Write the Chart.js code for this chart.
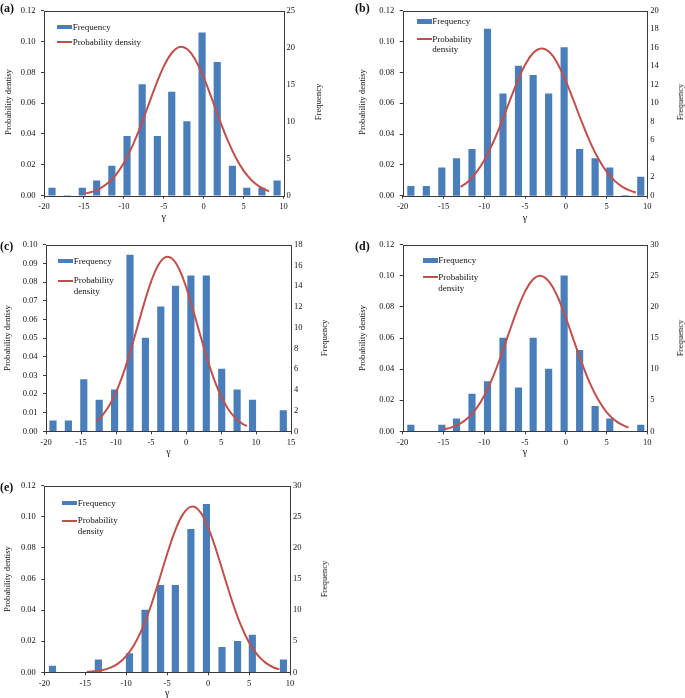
<!DOCTYPE html>
<html><head><meta charset="utf-8">
<script src="https://cdn.jsdelivr.net/npm/chart.js@4.4.1/dist/chart.umd.min.js"></script>
<style>
body{margin:0;background:#fff;}
#page{position:relative;width:685px;height:698px;overflow:hidden;font-family:"Liberation Serif","Times New Roman",serif;color:#111;}
canvas{position:absolute;}
.lbl{position:absolute;font-weight:bold;font-size:12px;line-height:12px;}
.vt{position:absolute;font-size:8.7px;line-height:10px;white-space:nowrap;transform:translate(-50%,-50%) rotate(-90deg);}
.gm{position:absolute;font-size:10px;line-height:10px;transform:translate(-50%,-50%);}
.lg{position:absolute;font-size:9px;line-height:10.5px;white-space:nowrap;}
.sw{position:absolute;}
</style></head>
<body><div id="page"></div>
<script>
// ---- data ----
const binCenters  = [-19.0,-17.1,-15.2,-13.4,-11.5,-9.6,-7.7,-5.8,-4.0,-2.1,-0.2,1.7,3.6,5.4,7.3,9.2];
const binCentersC = [-19.0,-16.8,-14.6,-12.4,-10.2,-8.0,-5.8,-3.6,-1.5,0.7,2.9,5.1,7.3,9.5,11.7,13.9];

const freqA = [1,0,1,2,4,8,15,8,14,10,22,18,4,1,1,2];
const freqB = [1,1,3,4,5,18,11,14,13,11,16,5,4,3,0,2];
const freqC = [1,1,5,3,4,17,9,12,14,15,15,6,4,3,0,2];
const freqD = [1,0,1,2,6,8,15,7,15,10,25,13,4,2,0,1];
const freqE = [1,0,0,2,0,3,10,14,14,23,27,4,5,6,0,2];

const curveXA = [-15,-14,-13,-12,-11,-10,-9,-8,-7,-6,-5,-4,-3,-2,-1,0,1,2,3,4,5,6,7,8,8.2];
const curveYA = [0.0012,0.0024,0.0046,0.0081,0.0134,0.0211,0.0313,0.0437,0.0575,0.0715,0.0838,0.0925,0.0964,0.0947,0.0877,0.0767,0.0632,0.0491,0.0360,0.0249,0.0162,0.0100,0.0058,0.0032,0.0028];
const curveXB = [-12.9,-12,-11,-10,-9,-8,-7,-6,-5,-4,-3,-2,-1,0,1,2,3,4,5,6,7,8,8.6];
const curveYB = [0.0056,0.0091,0.0149,0.0230,0.0335,0.0460,0.0597,0.0732,0.0847,0.0925,0.0955,0.0931,0.0856,0.0744,0.0611,0.0473,0.0346,0.0239,0.0156,0.0096,0.0056,0.0031,0.0021];
const curveXC = [-12.8,-12,-11,-10,-9,-8,-7,-6,-5,-4,-3,-2,-1,0,1,2,3,4,5,6,7,8,8.7];
const curveYC = [0.0055,0.0083,0.0135,0.0209,0.0305,0.0422,0.0552,0.0683,0.0801,0.0888,0.0932,0.0926,0.0871,0.0775,0.0652,0.0520,0.0392,0.0280,0.0189,0.0121,0.0073,0.0042,0.0028];
const curveXD = [-15,-14,-13,-12,-11,-10,-9,-8,-7,-6,-5,-4,-3,-2,-1,0,1,2,3,4,5,6,7,7.7];
const curveYD = [0.0012,0.0025,0.0048,0.0085,0.0144,0.0229,0.0341,0.0478,0.0628,0.0775,0.0898,0.0978,0.0999,0.0959,0.0865,0.0732,0.0582,0.0435,0.0305,0.0201,0.0124,0.0072,0.0039,0.0025];
const curveXE = [-14.8,-14,-13,-12,-11,-10,-9,-8,-7,-6,-5,-4,-3,-2,-1,0,1,2,3,4,5,6,7,8,8.7];
const curveYE = [0.0003,0.0006,0.0013,0.0028,0.0056,0.0104,0.0179,0.0286,0.0425,0.0590,0.0761,0.0915,0.1023,0.1066,0.1034,0.0933,0.0784,0.0614,0.0447,0.0303,0.0192,0.0113,0.0062,0.0031,0.0019];

const xTicks    = [-20,-15,-10,-5,0,5,10];
const xTicksC   = [-20,-15,-10,-5,0,5,10,15];
const pdTicks   = [0,0.02,0.04,0.06,0.08,0.10,0.12];
const pdTicksC  = [0,0.01,0.02,0.03,0.04,0.05,0.06,0.07,0.08,0.09,0.10];
const fqTicksA  = [0,5,10,15,20,25];
const fqTicksB  = [0,2,4,6,8,10,12,14,16,18,20];
const fqTicksC  = [0,2,4,6,8,10,12,14,16,18];
const fqTicksDE = [0,5,10,15,20,25,30];

const panelLabels = ['(a)','(b)','(c)','(d)','(e)'];
const legendFreq = 'Frequency';
const legendPD = 'Probability density';
const yTitleLeft = 'Probability dentisy';
const yTitleRight = 'Frequency';
const xTitle = 'γ';

// ---- styling / layout ----
const BLUE = '#4a7ebb', RED = '#c0504d', AXIS = '#3a3a3a';
const FONT = 'Liberation Serif';
Chart.defaults.font.family = FONT;
const page = document.getElementById('page');

const panels = [
  {lab:panelLabels[0], labX:0, labY:8.3, cx:0, cy:0, cw:340, ch:230, area:{l:44,r:283.5,t:8,b:195.6},
   bins:binCenters, freq:freqA, cX:curveXA, cY:curveYA, xt:xTicks, lt:pdTicks, rt:fqTicksA,
   leg:{x:57.3, yF:27, yP:42, two:false}, tL:8, tR:318, gY:217},
  {lab:panelLabels[1], labX:355, labY:8.3, cx:340, cy:0, cw:345, ch:230, area:{l:62.7,r:307.3,t:8,b:195.7},
   bins:binCenters, freq:freqB, cX:curveXB, cY:curveYB, xt:xTicks, lt:pdTicks, rt:fqTicksB,
   leg:{x:416.7, yF:21.7, yP:39, two:true}, tL:361.7, tR:679.5, gY:218},
  {lab:panelLabels[2], labX:0, labY:245.7, cx:0, cy:230, cw:340, ch:230, area:{l:46,r:291,t:14.7,b:201.3},
   bins:binCentersC, freq:freqC, cX:curveXC, cY:curveYC, xt:xTicksC, lt:pdTicksC, rt:fqTicksC,
   leg:{x:58.3, yF:261.2, yP:280.7, two:true}, tL:7, tR:324, gY:451.5},
  {lab:panelLabels[3], labX:355, labY:245.7, cx:340, cy:230, cw:345, ch:230, area:{l:62.7,r:307.3,t:14.7,b:201.3},
   bins:binCenters, freq:freqD, cX:curveXD, cY:curveYD, xt:xTicks, lt:pdTicks, rt:fqTicksDE,
   leg:{x:422.7, yF:260.5, yP:277.3, two:true}, tL:361.7, tR:679.5, gY:451.5},
  {lab:panelLabels[4], labX:0, labY:486.7, cx:0, cy:470, cw:340, ch:228, area:{l:44.3,r:290,t:15.8,b:202.3},
   bins:binCenters, freq:freqE, cX:curveXE, cY:curveYE, xt:xTicks, lt:pdTicks, rt:fqTicksDE,
   leg:{x:62.3, yF:503, yP:520.7, two:true}, tL:7, tR:324, gY:692.5}
];

const framePlugin = {
  id:'frame',
  afterDraw(chart){
    const {ctx, chartArea:a} = chart;
    ctx.save();
    ctx.strokeStyle = AXIS; ctx.lineWidth = 1;
    ctx.strokeRect(Math.round(a.left)+0.5, Math.round(a.top)+0.5, Math.round(a.right)-Math.round(a.left), Math.round(a.bottom)-Math.round(a.top));
    ctx.restore();
  }
};

function addDiv(cls, text, css){
  const d = document.createElement('div');
  d.className = cls; d.textContent = text;
  Object.assign(d.style, css);
  page.appendChild(d);
  return d;
}

panels.forEach(p => {
  const A = p.area;
  const cv = document.createElement('canvas');
  cv.width = p.cw; cv.height = p.ch;
  Object.assign(cv.style, {left:p.cx+'px', top:p.cy+'px', width:p.cw+'px', height:p.ch+'px'});
  page.appendChild(cv);
  const tickFont = {family:FONT, size:8.5};
  new Chart(cv, {
    type:'bar',
    data:{datasets:[
      {type:'line', label:legendPD, data:p.cX.map((x,i)=>({x:x, y:p.cY[i]})), xAxisID:'x', yAxisID:'y',
       borderColor:RED, borderWidth:2, pointRadius:0, tension:0.4, fill:false, order:1},
      {type:'bar', label:legendFreq, data:p.bins.map((x,i)=>({x:x, y:p.freq[i]})), xAxisID:'x', yAxisID:'y1',
       backgroundColor:BLUE, borderWidth:0, barThickness:6.5, order:2}
    ]},
    options:{
      responsive:false, animation:false, devicePixelRatio:1,
      layout:{padding:{top:A.t, left:0, right:0, bottom:0}},
      plugins:{legend:{display:false}, tooltip:{enabled:false}},
      scales:{
        x:{type:'linear', position:'bottom', min:p.xt[0], max:p.xt[p.xt.length-1], offset:false,
           afterBuildTicks:s=>{ s.ticks = p.xt.map(v=>({value:v})); },
           afterFit:s=>{ s.height = p.ch - A.b; },
           ticks:{font:tickFont, color:'#111', padding:3, maxRotation:0, autoSkip:false, callback:v=>String(v)},
           grid:{display:true, drawOnChartArea:false, drawTicks:true, tickLength:3, color:AXIS, offset:false},
           border:{display:false}},
        y:{type:'linear', position:'left', min:0, max:p.lt[p.lt.length-1],
           afterBuildTicks:s=>{ s.ticks = p.lt.map(v=>({value:v})); },
           afterFit:s=>{ s.width = A.l; },
           ticks:{font:tickFont, color:'#111', padding:5.5, callback:v=>Number(v).toFixed(2)},
           grid:{display:true, drawOnChartArea:false, drawTicks:true, tickLength:3, color:AXIS},
           border:{display:false}},
        y1:{type:'linear', position:'right', min:0, max:p.rt[p.rt.length-1],
           afterBuildTicks:s=>{ s.ticks = p.rt.map(v=>({value:v})); },
           afterFit:s=>{ s.width = p.cw - A.r; },
           ticks:{font:tickFont, color:'#111', padding:3, callback:v=>String(v)},
           grid:{display:false, drawOnChartArea:false, drawTicks:false},
           border:{display:false}}
      }
    },
    plugins:[framePlugin]
  });

  // panel label
  addDiv('lbl', p.lab, {left:p.labX+'px', top:(p.labY-6)+'px'});
  // axis titles
  const midY = p.cy + (A.t + A.b)/2;
  const midX = p.cx + (A.l + A.r)/2;
  addDiv('vt', yTitleLeft, {left:p.tL+'px', top:midY+'px'});
  addDiv('vt', yTitleRight, {left:p.tR+'px', top:midY+'px'});
  addDiv('gm', xTitle, {left:midX+'px', top:p.gY+'px'});
  // legend
  const L = p.leg;
  addDiv('sw', '', {left:L.x+'px', top:(L.yF-2.3)+'px', width:'15px', height:'4.6px', background:BLUE});
  addDiv('lg', legendFreq, {left:(L.x+15.5)+'px', top:(L.yF-5.25)+'px'});
  addDiv('sw', '', {left:L.x+'px', top:(L.yP-1)+'px', width:'15px', height:'2px', background:RED});
  const t = addDiv('lg', '', {left:(L.x+15.5)+'px', top:(L.yP-5.25)+'px'});
  if (L.two) { t.innerHTML = 'Probability<br>density'; } else { t.textContent = legendPD; }
});
</script>
</body></html>
